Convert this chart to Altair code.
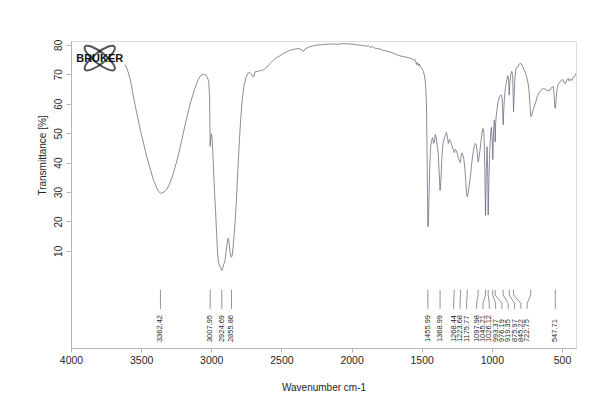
import altair as alt
import pandas as pd

# ---------------- data ----------------
wavenumber = [3615, 3600, 3585, 3570, 3555, 3530, 3505, 3480, 3460, 3435, 3412, 3390, 3375, 3362, 3345,
              3330, 3316, 3295, 3270, 3240, 3210, 3180, 3150, 3120, 3095, 3075, 3055, 3040, 3028, 3018,
              3012, 3008, 3004, 2999, 2994, 2986, 2978, 2970, 2962, 2955, 2948, 2940, 2933, 2928, 2924,
              2919, 2912, 2903, 2895, 2887, 2880, 2873, 2866, 2860, 2856, 2851, 2845, 2838, 2830, 2820,
              2810, 2800, 2790, 2778, 2765, 2752, 2740, 2725, 2712, 2704, 2696, 2688, 2670, 2650, 2628,
              2605, 2580, 2557, 2530, 2509, 2486, 2460, 2438, 2410, 2380, 2360, 2348, 2340, 2330, 2300,
              2270, 2248, 2200, 2150, 2100, 2060, 2020, 1980, 1950, 1920, 1895, 1880, 1865, 1850, 1838,
              1820, 1800, 1780, 1760, 1740, 1720, 1700, 1680, 1660, 1640, 1620, 1600, 1585, 1570, 1558,
              1550, 1542, 1536, 1530, 1523, 1516, 1510, 1502, 1495, 1488, 1480, 1472, 1466, 1462, 1459,
              1456, 1452, 1448, 1443, 1437, 1430, 1422, 1416, 1410, 1404, 1398, 1390, 1382, 1376, 1369,
              1363, 1356, 1348, 1340, 1330, 1324, 1318, 1310, 1302, 1294, 1286, 1278, 1268, 1260, 1252,
              1245, 1238, 1230, 1224, 1218, 1212, 1206, 1200, 1192, 1185, 1180, 1176, 1170, 1162, 1153,
              1145, 1135, 1126, 1118, 1110, 1103, 1098, 1092, 1085, 1078, 1070, 1063, 1056, 1050, 1045,
              1040, 1034, 1030, 1026, 1021, 1015, 1008, 1002, 997, 993, 988, 983, 979, 976, 972,
              965, 955, 945, 935, 927, 922, 919, 915, 909, 902, 895, 887, 880, 876, 872,
              865, 858, 851, 848, 845, 841, 835, 828, 815, 800, 790, 780, 770, 760, 750,
              742, 735, 728, 722, 716, 708, 698, 688, 675, 660, 645, 630, 615, 600, 590,
              580, 570, 562, 556, 551, 548, 544, 538, 530, 520, 510, 500, 491, 483, 475,
              466, 456, 448, 440, 430, 420, 410, 402]
transmittance = [73.3, 71.8, 69.5, 66.5, 62.4, 56.5, 51.0, 46.0, 42.0, 37.8, 34.1, 31.5, 30.2, 29.6, 29.8,
                 30.2, 30.9, 33.0, 36.4, 41.5, 47.7, 54.2, 60.0, 64.8, 68.0, 69.6, 70.0, 69.8, 69.0, 67.5,
                 62.0, 45.5, 48.0, 49.8, 48.5, 40.0, 31.0, 24.0, 16.0, 9.0, 6.0, 4.8, 4.5, 3.6, 3.3,
                 4.0, 5.2, 6.5, 9.5, 12.5, 14.3, 13.0, 9.5, 8.0, 7.8, 8.5, 11.0, 15.0, 20.0, 28.0,
                 38.0, 47.0, 55.0, 62.0, 66.5, 69.0, 70.3, 70.6, 70.0, 69.2, 69.4, 70.8, 71.0, 71.2, 71.5,
                 72.4, 73.7, 74.8, 75.8, 76.3, 77.1, 77.7, 78.2, 78.5, 78.7, 78.5, 77.8, 77.9, 78.6, 79.3,
                 79.7, 79.9, 80.1, 80.3, 80.2, 80.4, 80.3, 80.1, 79.9, 79.8, 79.5, 79.8, 79.1, 79.5, 78.9,
                 78.8, 78.6, 78.2, 78.0, 77.7, 77.5, 77.1, 76.7, 76.3, 76.1, 75.9, 75.7, 75.4, 75.3, 74.8,
                 75.1, 74.2, 73.3, 74.0, 72.8, 73.5, 72.6, 72.2, 71.6, 70.9, 69.5, 66.5, 60.0, 45.0, 30.0,
                 18.2, 20.0, 28.0, 38.0, 45.0, 47.5, 48.4, 46.5, 47.0, 49.5, 48.8, 46.0, 43.0, 37.0, 30.5,
                 34.0, 42.0, 46.5, 48.0, 49.5, 50.3, 49.2, 46.5, 47.8, 47.2, 46.0, 44.8, 43.4, 44.5, 44.0,
                 42.8, 41.3, 40.4, 40.0, 42.5, 43.3, 42.4, 41.5, 38.0, 33.0, 29.5, 28.4, 29.5, 32.0, 35.0,
                 39.0, 43.0, 45.5, 46.5, 45.8, 43.0, 40.3, 41.5, 44.0, 47.0, 50.0, 51.6, 50.0, 38.0, 22.0,
                 36.0, 45.4, 38.0, 22.2, 34.0, 44.0, 50.5, 52.0, 47.0, 41.0, 50.0, 54.5, 53.0, 47.0, 54.0,
                 57.5, 60.7, 62.3, 63.0, 62.0, 57.0, 52.8, 58.0, 63.0, 65.8, 67.5, 69.5, 68.0, 62.9, 67.0,
                 70.0, 71.0, 69.5, 63.0, 57.3, 63.0, 69.0, 71.8, 72.6, 73.7, 73.5, 72.6, 71.5, 70.4, 68.8,
                 67.0, 64.5, 59.5, 55.6, 56.0, 57.5, 59.0, 60.5, 62.5, 64.0, 64.8, 65.2, 64.8, 64.4, 64.4,
                 65.2, 65.6, 65.8, 63.0, 59.0, 58.4, 60.0, 64.0, 66.3, 67.0, 67.6, 68.2, 68.0, 67.0, 66.9,
                 68.0, 68.6, 67.7, 68.4, 67.9, 69.0, 69.3, 70.3]

peak_wn = [3362.42, 3007.95, 2924.69, 2855.86, 1455.99, 1368.99, 1268.44, 1223.68, 1175.77,
           1097.98, 1045.21, 1026.12, 993.37, 976.19, 919.35, 875.97, 845.22, 722.75, 547.71]
peak_labels = ["3362.42", "3007.95", "2924.69", "2855.86", "1455.99", "1368.99", "1268.44",
               "1223.68", "1175.77", "1097.98", "1045.21", "1026.12", "993.37", "976.19",
               "919.35", "875.97", "845.22", "722.75", "547.71"]
label_wn = [3362.42, 3007.95, 2924.69, 2855.86, 1455.99, 1368.99, 1272, 1226, 1180,
            1108, 1063, 1018, 973, 928, 883, 838, 793, 748, 547.71]

x_ticks = [4000, 3500, 3000, 2500, 2000, 1500, 1000, 500]
y_ticks = [10, 20, 30, 40, 50, 60, 70, 80]

# ---------------- tables ----------------
spec_df = pd.DataFrame({"wn": wavenumber, "t": transmittance})

# connector levels (in transmittance units, below the spectrum)
LEVELS = [-3.2, -5.0, -7.8, -9.7]
LABEL_T = -21.0
rows = []
for i, (p, l) in enumerate(zip(peak_wn, label_wn)):
    for k, (w, t) in enumerate(zip([p, p, l, l], LEVELS)):
        rows.append({"id": i, "k": k, "wn": w, "t": t})
conn_df = pd.DataFrame(rows)
lab_df = pd.DataFrame({"wn": label_wn, "t": [LABEL_T] * len(label_wn), "label": peak_labels})

logo_df = pd.DataFrame({"wn": [3795, 3795], "t": [75.5, 75.5], "a": [38, 322]})
logo_txt = pd.DataFrame({"wn": [3795], "t": [75.3], "label": ["BRUKER"]})

# ---------------- encodings ----------------
AXC = "#b5b5b5"
TXT = "#262626"
xscale = alt.Scale(domain=[400, 4000], reverse=True, nice=False, zero=False)
yscale = alt.Scale(domain=[-23, 81.3], nice=False, zero=False)
xaxis = alt.Axis(values=x_ticks, format="d", title="Wavenumber cm-1", grid=False, tickSize=4,
                 labelFontSize=10.5, labelPadding=3, labelColor=TXT, domainColor=AXC,
                 tickColor=AXC, titleFontSize=10, titleFontWeight="normal", titleColor=TXT,
                 titleY=34, titleBaseline="top", labelFlush=False)
yaxis = alt.Axis(values=y_ticks, format="d", title="Transmittance [%]", grid=False, tickSize=5,
                 labelFontSize=10, labelPadding=3, labelAngle=270, labelAlign="center",
                 labelBaseline="bottom", labelColor=TXT, domainColor=AXC, tickColor=AXC,
                 titleFontSize=10, titleFontWeight="normal", titleColor=TXT,
                 titleX=-29, titleY=114, titleBaseline="middle", titleAlign="center")
X = alt.X("wn:Q", scale=xscale, axis=xaxis)
Y = alt.Y("t:Q", scale=yscale, axis=yaxis)

spectrum = alt.Chart(spec_df).mark_line(color="#64647c", strokeWidth=0.75, clip=True).encode(x=X, y=Y)

connectors = alt.Chart(conn_df).mark_line(color="#707070", strokeWidth=0.75).encode(
    x=X, y=Y, detail="id:N", order="k:Q")

labels = alt.Chart(lab_df).mark_text(angle=270, align="left", baseline="middle", fontSize=7.5,
                                     color=TXT, font="Liberation Sans").encode(x=X, y=Y, text="label:N")

ELLIPSE = "M-1,0A1,0.3,0,1,1,1,0A1,0.3,0,1,1,-1,0Z"
logo_rings = alt.Chart(logo_df).mark_point(shape=ELLIPSE, filled=False, color="#111111",
                                           strokeWidth=2, size=1400).encode(
    x=X, y=Y, angle=alt.Angle("a:Q", scale=None))
logo_text = alt.Chart(logo_txt).mark_text(fontSize=11, fontWeight="bold", color="#111111",
                                          font="Liberation Sans").encode(x=X, y=Y, text="label:N")

chart = alt.layer(spectrum, connectors, labels, logo_rings, logo_text).properties(
    width=505, height=307, autosize="none",
    padding={"left": 63, "top": 33, "right": 16, "bottom": 45},
).configure_view(stroke="#c4c4c4", strokeWidth=1).configure(font="Liberation Sans")

chart.save("out.html", embed_options={"renderer": "svg", "actions": False})
